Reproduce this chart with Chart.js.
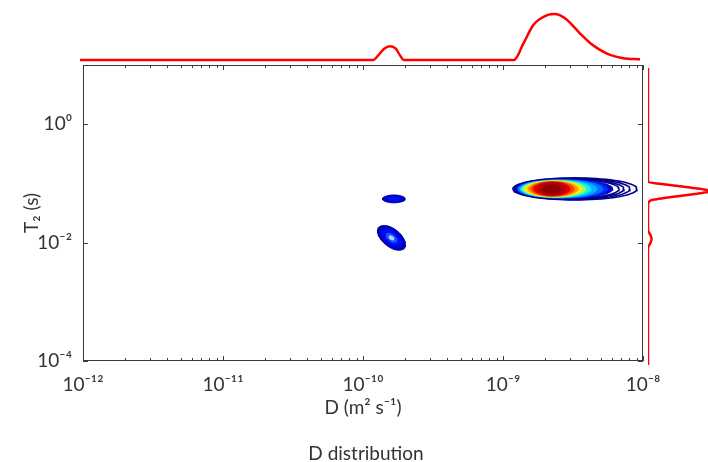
<!DOCTYPE html>
<html lang="en">
<head>
<meta charset="UTF-8" />
<title>D-T2 distribution</title>
<script src="https://cdn.jsdelivr.net/npm/chart.js"></script>
<style>
  html, body { margin: 0; padding: 0; background: #fff; }
  #wrap { position: relative; width: 708px; height: 462px; }
  #wrap canvas { position: absolute; }
</style>
</head>
<body>
<div id="wrap">
  <canvas id="map" width="708" height="462" style="left:0;top:0"></canvas>
  <canvas id="topDist" width="708" height="70" style="left:0;top:0"></canvas>
  <canvas id="rightDist" width="68" height="462" style="left:640px;top:0"></canvas>
</div>
<script>
// axis ticks
const xTickValues = [1e-12, 1e-11, 1e-10, 1e-9, 1e-8];
const xTickLabels = ['10⁻¹²', '10⁻¹¹', '10⁻¹⁰', '10⁻⁹', '10⁻⁸'];
const yTickValues = [1e-4, 1e-2, 1e0];
const yTickLabels = ['10⁻⁴', '10⁻²', '10⁰'];

// contour levels, outermost first (centre in log10 units, half axes in decades)
const contourLogD  = [-8.486, -8.507, -8.525, -8.539, -8.561, -8.575, -8.589, -8.604, -8.621, -8.632, -8.639, -8.643, -8.646, -8.650, -8.650, -8.654,
                      -9.779, -9.779, -9.779,
                      -9.796, -9.796, -9.796, -9.796, -9.796];
const contourLogT2 = [-1.093, -1.093, -1.093, -1.093, -1.093, -1.093, -1.093, -1.093, -1.093, -1.093, -1.093, -1.093, -1.093, -1.093, -1.093, -1.093,
                      -1.262, -1.262, -1.262,
                      -1.920, -1.920, -1.920, -1.920, -1.920];
const contourHalfD  = [0.443, 0.414, 0.389, 0.368, 0.346, 0.325, 0.304, 0.275, 0.250, 0.225, 0.204, 0.179, 0.154, 0.129, 0.100, 0.061,
                       0.081, 0.066, 0.040,
                       0.100, 0.086, 0.063, 0.038, 0.017];
const contourHalfT2 = [0.186, 0.177, 0.169, 0.164, 0.160, 0.155, 0.152, 0.147, 0.142, 0.137, 0.132, 0.127, 0.122, 0.115, 0.101, 0.076,
                       0.066, 0.052, 0.030,
                       0.178, 0.152, 0.111, 0.066, 0.029];
const contourSlope  = [0, 0, 0, 0, 0, 0, 0, 0, 0, 0, 0, 0, 0, 0, 0, 0,
                       0, 0, 0,
                       -1.12, -1.12, -1.12, -1.12, -1.12];
const contourColour = ['#00008b', '#00008b', '#00008b', '#00008b', '#0000c8', '#0028ff', '#0070ff', '#00b4ff', '#10f0f0', '#90ff70', '#ffee00', '#ff9a00', '#ff4000', '#e00000', '#b40000', '#8c0000',
                       '#00009a', '#0000dc', '#0014f0',
                       '#00009a', '#0000d8', '#0010f4', '#2050ff', '#b0d8ff'];
const contourFilled = [false, false, false, false, true, true, true, true, true, true, true, true, true, true, true, true,
                       true, true, true,
                       true, true, true, true, true];

// marginal distributions
const topD   = [1e-12, 1.24e-10, 1.35e-10, 1.48e-10, 1.64e-10, 1.81e-10, 1.93e-10, 2.06e-10,
                1.26e-9, 1.47e-9, 1.73e-9, 1.93e-9, 2.20e-9, 2.43e-9, 2.69e-9, 2.99e-9, 3.72e-9, 4.40e-9, 5.18e-9, 6.11e-9, 7.57e-9, 1e-8];
const topAmp = [0, 0, 0.10, 0.24, 0.30, 0.24, 0.10, 0,
                0, 0.36, 0.76, 0.89, 0.98, 1.00, 0.97, 0.88, 0.58, 0.37, 0.22, 0.11, 0.04, 0.015];
const rightT2  = [10, 0.1205, 0.1114, 0.1030, 0.0955, 0.0849, 0.0787, 0.0757, 0.0700, 0.0647, 0.0611, 0.0577, 0.0494,
                  0.01875, 0.01545, 0.01321, 0.01132, 0.00933, 1e-4];
const rightAmp = [0, 0, 0.23, 0.50, 0.75, 1.05, 0.90, 0.78, 0.53, 0.27, 0.10, 0.03, 0,
                  0, 0.04, 0.06, 0.04, 0, 0];

const textColour = '#333';
const fontFamily = 'Lato, "Open Sans", sans-serif';

function contourPoints(i) {
  const pts = [];
  for (let s = 0; s <= 72; s++) {
    const a = s / 72 * 2 * Math.PI;
    const dx = contourHalfD[i] * Math.cos(a);
    const dy = contourHalfT2[i] * Math.sin(a) + contourSlope[i] * dx;
    pts.push({ x: Math.pow(10, contourLogD[i] + dx), y: Math.pow(10, contourLogT2[i] + dy) });
  }
  return pts;
}

const n = contourLogD.length;
const contourSets = contourLogD.map((_, i) => ({
  data: contourPoints(i),
  showLine: true,
  borderColor: contourColour[i],
  backgroundColor: contourColour[i],
  borderWidth: contourFilled[i] ? 1 : 1.6,
  fill: contourFilled[i] ? 'shape' : false,
  pointRadius: 0,
  tension: 0,
  order: n - i
}));

// inward tick marks and the box
const frame = {
  id: 'frame',
  afterDraw(chart) {
    const { ctx, chartArea: a, scales: { x, y } } = chart;
    ctx.save();
    ctx.strokeStyle = '#3a3a3a';
    ctx.lineWidth = 1;
    ctx.strokeRect(a.left + 0.5, a.top + 0.5, a.right - a.left - 1, a.bottom - a.top - 1);
    ctx.beginPath();
    xTickValues.forEach((v, i) => {
      const px = Math.round(x.getPixelForValue(v)) + 0.5;
      ctx.moveTo(px, a.bottom); ctx.lineTo(px, a.bottom - 5);
      ctx.moveTo(px, a.top); ctx.lineTo(px, a.top + 5);
      if (i < xTickValues.length - 1) {
        for (let k = 2; k <= 9; k++) {
          const mx = Math.round(x.getPixelForValue(k * v)) + 0.5;
          ctx.moveTo(mx, a.bottom); ctx.lineTo(mx, a.bottom - 3);
          ctx.moveTo(mx, a.top); ctx.lineTo(mx, a.top + 3);
        }
      }
    });
    yTickValues.forEach(v => {
      const py = Math.round(y.getPixelForValue(v)) + 0.5;
      ctx.moveTo(a.left, py); ctx.lineTo(a.left + 5, py);
      ctx.moveTo(a.right, py); ctx.lineTo(a.right - 5, py);
    });
    ctx.stroke();
    ctx.restore();
  }
};

new Chart(document.getElementById('map'), {
  type: 'scatter',
  data: { datasets: contourSets },
  options: {
    responsive: false,
    animation: false,
    events: [],
    layout: { padding: { left: 24, right: 0, top: 65, bottom: 0 } },
    plugins: {
      legend: { display: false },
      tooltip: { enabled: false },
      title: {
        display: true, text: 'D distribution', position: 'bottom', color: textColour,
        font: { family: fontFamily, size: 19, weight: 'normal' }, padding: { top: 0, bottom: -3 }
      }
    },
    scales: {
      x: {
        type: 'logarithmic', min: 1e-12, max: 1e-8,
        grid: { display: false, drawTicks: false },
        border: { display: false },
        afterBuildTicks: s => { s.ticks = xTickValues.map(v => ({ value: v })); },
        afterFit: s => { s.height = 81.2; },
        ticks: {
          callback: (v, i) => xTickLabels[i], autoSkip: false, maxRotation: 0, padding: 12,
          color: textColour, font: { family: fontFamily, size: 19 }
        },
        title: {
          display: true, text: 'D (m² s⁻¹)', color: textColour,
          font: { family: fontFamily, size: 19 }, padding: { top: 0, bottom: 22.8 }
        }
      },
      y: {
        type: 'logarithmic', min: 1e-4, max: 1e1,
        grid: { display: false, drawTicks: false },
        border: { display: false },
        afterBuildTicks: s => { s.ticks = yTickValues.map(v => ({ value: v })); },
        afterFit: s => { s.width = 59; },
        ticks: {
          callback: (v, i) => yTickLabels[i], autoSkip: false, padding: 11,
          color: textColour, font: { family: fontFamily, size: 19 }
        },
        title: {
          display: true, text: 'T₂ (s)', color: textColour,
          font: { family: fontFamily, size: 19, lineHeight: 1 }, padding: { top: -1.5, bottom: 0 }
        }
      },
      // keeps room on the right for the T2 distribution
      yRight: {
        position: 'right', display: true,
        grid: { display: false }, border: { display: false }, ticks: { display: false },
        afterFit: s => { s.width = 65; }
      }
    }
  },
  plugins: [frame]
});

const lineStyle = {
  showLine: true, borderColor: '#ff0000', borderWidth: 2.5, pointRadius: 0,
  fill: false, cubicInterpolationMode: 'monotone'
};

new Chart(document.getElementById('topDist'), {
  type: 'scatter',
  data: { datasets: [Object.assign({ data: topD.map((d, i) => ({ x: d, y: topAmp[i] })), clip: false }, lineStyle)] },
  options: {
    responsive: false, animation: false, events: [],
    layout: { padding: { left: 80, right: 68, top: 14, bottom: 10 } },
    plugins: { legend: { display: false }, tooltip: { enabled: false } },
    scales: {
      x: { type: 'logarithmic', min: 1e-12, max: 1e-8, display: false },
      y: { type: 'linear', min: 0, max: 1, display: false }
    }
  }
});

new Chart(document.getElementById('rightDist'), {
  type: 'scatter',
  data: { datasets: [Object.assign({ data: rightT2.map((t, i) => ({ x: rightAmp[i], y: t })), indexAxis: 'y' }, lineStyle)] },
  options: {
    responsive: false, animation: false, events: [],
    indexAxis: 'y',
    layout: { padding: { left: 8, right: 0, top: 68, bottom: 97 } },
    plugins: { legend: { display: false }, tooltip: { enabled: false } },
    scales: {
      x: { type: 'linear', min: 0, max: 1, display: false },
      y: { type: 'logarithmic', min: 1e-4, max: 1e1, display: false }
    }
  }
});
</script>
</body>
</html>
